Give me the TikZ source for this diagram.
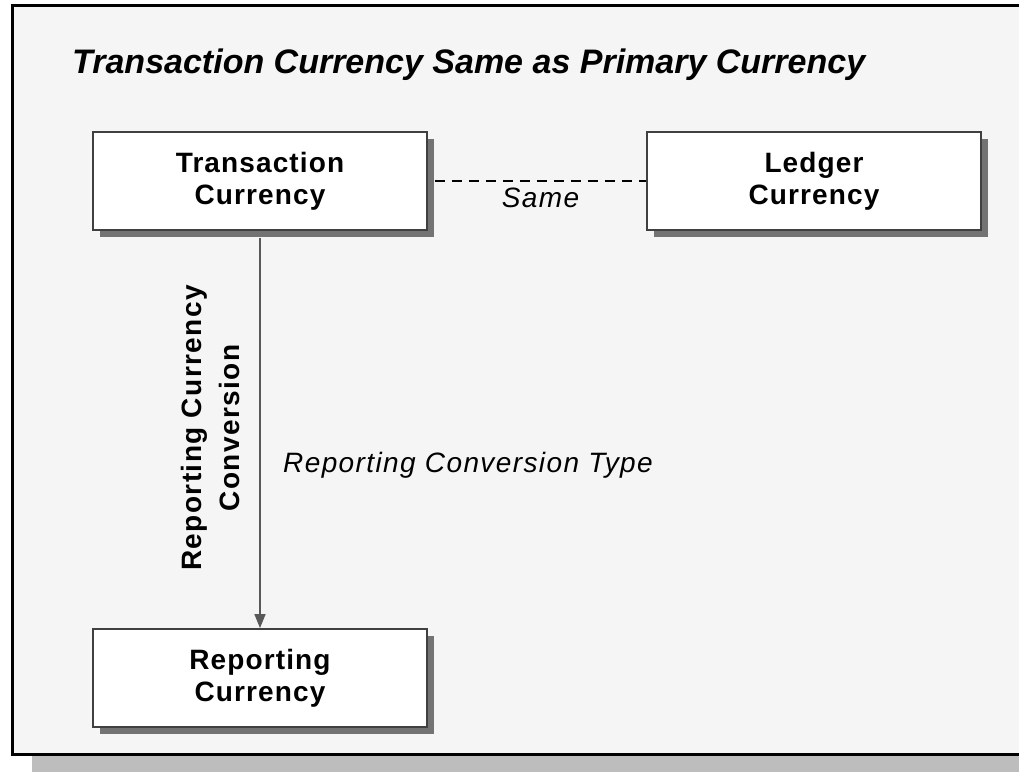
\documentclass[tikz,border=0pt]{standalone}
\usepackage{fontspec}
\setmainfont{Liberation Sans}
\usepackage{tikz}
\usetikzlibrary{arrows.meta,positioning,shadows}

\begin{document}
\begin{tikzpicture}[x=1pt,y=-1pt,
    currbox/.style={draw=black!75,line width=1.8pt,fill=white,
      minimum width=334pt,minimum height=98pt,align=center,
      font=\fontsize{28}{32}\selectfont\bfseries\addfontfeatures{LetterSpace=4},
      drop shadow={shadow xshift=7pt,shadow yshift=-7pt,fill=black!55,opacity=1}},
    notetext/.style={font=\fontsize{28}{32}\selectfont\itshape\addfontfeatures{LetterSpace=5},
      inner sep=0pt}]
    \useasboundingbox (0,0) rectangle (1019,771);

    % Frame
    \fill[black!26] (32,20) rectangle (1040,775);
    \draw[line width=3pt,fill=black!4] (12,5) rectangle (1030,754);
    \node[anchor=base west,inner sep=0pt,font=\fontsize{34}{40}\selectfont\bfseries\itshape]
      (title) at (72,73) {Transaction Currency Same as Primary Currency};

    % Currencies
    \node[currbox] (trans) at (260,181) {Transaction\\Currency};
    \node[currbox] (ledger) at (814,181) {Ledger\\Currency};
    \node[currbox] (report) at (260,678) {Reporting\\Currency};

    % Same currency
    \draw[dashed,dash pattern=on 10pt off 7pt,line width=1.6pt]
      ([xshift=7pt]trans.east) -- node[notetext,below=6pt] (same) {Same} (ledger.west);

    % Conversion
    \draw[-{Triangle[length=14pt,width=11pt]},black!65,line width=1.6pt]
      ([yshift=-7pt]trans.south) -- (report.north);
    \node[rotate=90,align=center,inner sep=0pt,
      font=\fontsize{28}{38}\selectfont\bfseries\addfontfeatures{LetterSpace=5}] (conv) at (210,428)
      {Reporting Currency\\Conversion};
    \node[notetext,anchor=west] (convtype) at (283,465) {Reporting Conversion Type};
\end{tikzpicture}
\end{document}
